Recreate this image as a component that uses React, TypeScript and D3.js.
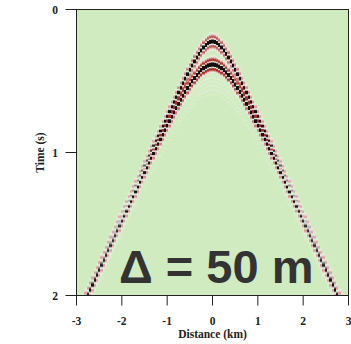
import React, { useMemo } from "react";
import * as d3 from "d3";

// Axis ticks
const distanceTicks = [-3, -2, -1, 0, 1, 2, 3]; // km
const timeTicks = [0, 1, 2]; // s

// Model parameters for the synthetic shot gather
const eventApexTimes = [0.224, 0.385]; // zero-offset times of the two events (s)
const eventAmplitudes = [0.85, 1.0];
const ringApexTimes = [0.45, 0.505, 0.56]; // weak trailing ringing (s)
const ringAmplitudes = [0.06, 0.05, 0.04];
const velocity = 1.4; // km/s
const traceSpacing = 0.05; // km (Δ = 50 m)
const peakFrequency = 12; // Hz, Ricker wavelet
const offsetRange = [-3, 3];
const timeRange = [0, 2];

const W = 351;
const H = 344;
const plot = { left: 76.5, right: 348.5, top: 9.5, bottom: 295.5 };

const ricker = (t: number) => {
  const u = Math.PI * Math.PI * peakFrequency * peakFrequency * t * t;
  return (1 - 2 * u) * Math.exp(-u);
};

const toBlack = d3.interpolateRgb("#ffffff", "#151011");
const toRed = d3.interpolateRgb("#ffffff", "#a83029");

export default function App() {
  const x = d3.scaleLinear().domain(offsetRange).range([plot.left, plot.right]);
  const y = d3.scaleLinear().domain(timeRange).range([plot.top, plot.bottom]);

  const cells = useMemo(() => {
    const out: { x: number; y: number; w: number; fill: string; op: number }[] = [];
    const offsets = d3.range(offsetRange[0], offsetRange[1] + 1e-9, traceSpacing);
    const dx = x(traceSpacing) - x(0);
    const events = [
      ...eventApexTimes.map((t0, i) => ({ t0, a: eventAmplitudes[i] })),
      ...ringApexTimes.map((t0, i) => ({ t0, a: ringAmplitudes[i] })),
    ];
    for (const off of offsets) {
      const arrivals = events.map((e) => {
        const t = Math.sqrt(e.t0 * e.t0 + (off / velocity) * (off / velocity));
        return { t, a: e.a * Math.pow(e.t0 / t, 0.33) };
      });
      const x0 = x(off) - dx / 2;
      for (let py = Math.floor(plot.top); py < plot.bottom; py++) {
        const t = y.invert(py + 0.5);
        let amp = 0;
        for (const ar of arrivals) {
          const d = t - ar.t;
          if (Math.abs(d) < 0.1) amp += ar.a * ricker(d);
        }
        const m = Math.abs(amp);
        if (m < 0.012) continue;
        const s = Math.pow(Math.min(1, m / 0.45), 1.25);
        out.push({
          x: x0,
          y: py,
          w: dx,
          fill: amp > 0 ? toBlack(s) : toRed(s),
          op: Math.min(1, m * 8),
        });
      }
    }
    return out;
  }, []);

  const axisFont = { fontFamily: "'Liberation Serif', 'Times New Roman', serif", fontWeight: 700, fontSize: 11.5 };

  return (
    <svg width={W} height={H} style={{ position: "absolute", left: 0, top: 0 }}>
      <defs>
        <clipPath id="plot-clip">
          <rect x={plot.left} y={plot.top} width={plot.right - plot.left} height={plot.bottom - plot.top} />
        </clipPath>
      </defs>
      <rect x={0} y={0} width={W} height={H} fill="#ffffff" />
      <rect x={plot.left} y={plot.top} width={plot.right - plot.left} height={plot.bottom - plot.top} fill="#d0ebc0" />
      <g clipPath="url(#plot-clip)" shapeRendering="crispEdges">
        {cells.map((c, i) => (
          <rect key={i} x={c.x} y={c.y} width={c.w} height={1} fill={c.fill} fillOpacity={c.op} />
        ))}
      </g>
      <rect
        x={plot.left}
        y={plot.top}
        width={plot.right - plot.left}
        height={plot.bottom - plot.top}
        fill="none"
        stroke="#222"
        strokeWidth={1}
      />
      <text
        x={119}
        y={283}
        fill="#333333"
        style={{ fontFamily: "'Liberation Sans', Arial, sans-serif", fontWeight: 700, fontSize: 47 }}
      >
        Δ = 50 m
      </text>
      {/* y axis */}
      {timeTicks.map((t) => (
        <g key={t}>
          <line x1={plot.left - 11} x2={plot.left} y1={y(t)} y2={y(t)} stroke="#222" />
          <text x={58} y={y(t)} dy="0.35em" textAnchor="end" style={axisFont} fill="#222">
            {t}
          </text>
        </g>
      ))}
      <text
        transform={`translate(40,${y(1)}) rotate(-90)`}
        textAnchor="middle"
        dy="0.35em"
        style={axisFont}
        fill="#222"
      >
        Time (s)
      </text>
      {/* x axis */}
      {distanceTicks.map((d) => (
        <g key={d}>
          <line x1={x(d)} x2={x(d)} y1={plot.bottom} y2={plot.bottom + 10} stroke="#222" />
          <text x={x(d)} y={325} textAnchor="middle" style={axisFont} fill="#222">
            {d < 0 ? `-${Math.abs(d)}` : d}
          </text>
        </g>
      ))}
      <text x={x(0)} y={338} textAnchor="middle" style={axisFont} fill="#222">
        Distance (km)
      </text>
    </svg>
  );
}
